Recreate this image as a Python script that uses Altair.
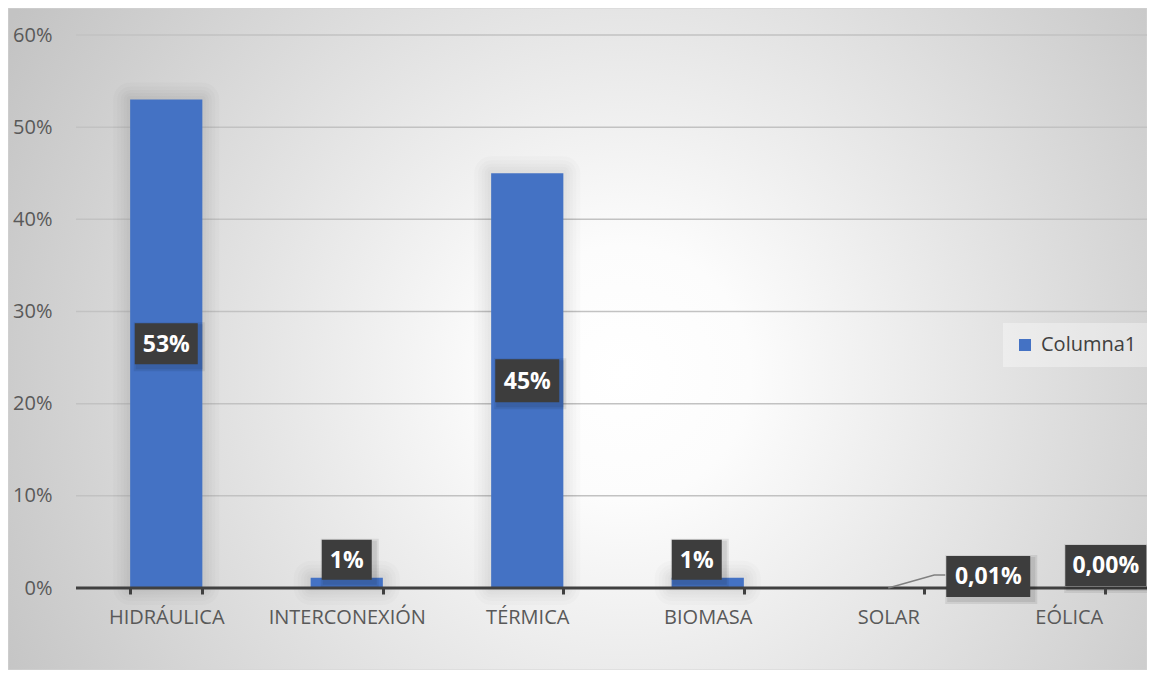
import altair as alt
import pandas as pd

# ---------------- data ----------------
categories = ["HIDRÁULICA", "INTERCONEXIÓN", "TÉRMICA", "BIOMASA", "SOLAR", "EÓLICA"]
values = [0.53, 0.011, 0.45, 0.011, 0.0001, 0.00002]
labels = ["53%", "1%", "45%", "1%", "0,01%", "0,00%"]
series_name = "Columna1"
y_ticks = [0.0, 0.1, 0.2, 0.3, 0.4, 0.5, 0.6]

df = pd.DataFrame({"cat": categories, "value": values, "label": labels, "series": series_name})
grid_df = pd.DataFrame({"v": y_ticks[1:]})
bg_df = pd.DataFrame({"a": [0]})

# ---------------- layout / style ----------------
W, H = 1071, 553          # plot area
PAD = {"left": 68, "top": 27, "right": 0, "bottom": 82}
XR = 1083                 # x range (runs past right edge like the original)
FONT = "Open Sans"
BAR = "#4472C4"
BOX = "#3d3d3d"

# label box placement (pixel nudges relative to anchor) and box sizes
label_style = {
    "HIDRÁULICA":    dict(mid=True,  dx=0,   dy=0,     w=63, h=41),
    "INTERCONEXIÓN": dict(mid=False, dx=0,   dy=-18,   w=50, h=40),
    "TÉRMICA":       dict(mid=True,  dx=0,   dy=0,     w=64, h=43),
    "BIOMASA":       dict(mid=False, dx=-11, dy=-18,   w=50, h=40),
    "SOLAR":         dict(mid=False, dx=100, dy=-11.5, w=84, h=41),
    "EÓLICA":        dict(mid=False, dx=37,  dy=-22.5, w=81, h=41),
}

S = 50.0  # custom symbol unit scale for size=10000


def rect_path(cx, cy, w, h):
    x0, x1 = (cx - w / 2) / S, (cx + w / 2) / S
    y0, y1 = (cy - h / 2) / S, (cy + h / 2) / S
    return f"M{x0:.3f},{y0:.3f}L{x1:.3f},{y0:.3f}L{x1:.3f},{y1:.3f}L{x0:.3f},{y1:.3f}Z"


xscale = alt.Scale(domain=categories, range=[0, XR], paddingInner=0.6, paddingOuter=0.3)
yscale = alt.Scale(domain=[0, 0.6], nice=False, zero=True)

xaxis = alt.Axis(title=None, domain=False, grid=False, ticks=True, tickBand="extent",
                 tickSize=6, tickWidth=3, tickColor="#404040", labelFont=FONT,
                 labelFontSize=20, labelColor="#595959", labelPadding=13, labelAngle=0,
                 zindex=1)
yaxis = alt.Axis(title=None, domain=False, grid=False, ticks=False, tickSize=0,
                 values=y_ticks, format=".0%", labelFont=FONT, labelFontSize=20,
                 labelColor="#595959", labelPadding=24, zindex=1)

xenc = alt.X("cat:N", sort=categories, scale=xscale, axis=xaxis)


def yenc(field):
    return alt.Y(field, scale=yscale, axis=yaxis)


# background with radial gradient
bg = alt.Chart(bg_df).mark_rect(
    color=alt.RadialGradient(
        gradient="radial",
        stops=[alt.GradientStop(color="#ffffff", offset=0),
               alt.GradientStop(color="#fcfcfc", offset=0.18),
               alt.GradientStop(color="#c3c3c3", offset=1)],
        x1=0.54, y1=0.53, r1=0,
        x2=0.54, y2=0.53, r2=0.62),
    stroke="#d4d4d4", strokeWidth=1,
).encode(x=alt.value(-PAD["left"]), x2=alt.value(W),
         y=alt.value(-PAD["top"]), y2=alt.value(H + PAD["bottom"]))

grid = alt.Chart(grid_df).mark_rule(color="#c2c2c2", strokeWidth=1.5).encode(
    y=yenc("v:Q"), x=alt.value(0), x2=alt.value(XR))

base = alt.Chart(df).transform_calculate(half="datum.value / 2")

# soft halo around the visible bars
halo_base = base.transform_filter(alt.datum.value > 0.005)
halos = [halo_base.mark_bar(fillOpacity=0, stroke="#000000", strokeWidth=sw,
                            strokeOpacity=0.016, strokeJoin="round").encode(
             x=xenc, y=yenc("value:Q"))
         for sw in (34, 26, 19, 13, 7)]

bars = base.mark_bar().encode(
    x=xenc, y=yenc("value:Q"),
    color=alt.Color("series:N",
                    scale=alt.Scale(domain=[series_name], range=[BAR]),
                    legend=alt.Legend(title=None, orient="none", legendX=927, legendY=288,
                                      padding=12, fillColor="rgba(255,255,255,0.35)",
                                      symbolType="square", symbolSize=144,
                                      symbolStrokeWidth=0, labelFont=FONT,
                                      labelFontSize=20, labelColor="#404040",
                                      labelOffset=6)))

domain_rule = alt.Chart(bg_df).mark_rule(color="#404040", strokeWidth=3).encode(
    y=alt.datum(0), x=alt.value(0), x2=alt.value(XR))

layers = [bg, grid] + halos + [bars, domain_rule]

for cat in categories:
    st = label_style[cat]
    sub = base.transform_filter(alt.datum.cat == cat)
    yf = "half:Q" if st["mid"] else "value:Q"
    if cat == "SOLAR":
        layers.append(sub.mark_point(shape="M0,0L0.92,-0.26L1.14,-0.26", size=10000,
                                     filled=False, color="#808080", strokeWidth=1.5,
                                     opacity=1).encode(x=xenc, y=yenc(yf)))
    for grow in (8, 4):
        layers.append(sub.mark_point(
            shape=rect_path(st["dx"] + 3, st["dy"] + 3, st["w"] + grow, st["h"] + grow),
            size=10000, filled=True, color="#000000", opacity=0.08,
            strokeWidth=0).encode(x=xenc, y=yenc(yf)))
    layers.append(sub.mark_point(shape=rect_path(st["dx"], st["dy"], st["w"], st["h"]),
                                 size=10000, filled=True, color=BOX, opacity=1,
                                 strokeWidth=0).encode(x=xenc, y=yenc(yf)))
    layers.append(sub.mark_text(dx=st["dx"], dy=st["dy"] + 1, font=FONT, fontSize=23,
                                fontWeight="bold", color="#ffffff", baseline="middle",
                                align="center").encode(x=xenc, y=yenc(yf), text="label:N"))

chart = alt.layer(*layers).properties(
    width=W, height=H,
    autosize=alt.AutoSizeParams(type="none"),
    padding=PAD,
).configure_view(stroke=None).configure(background="#ffffff")

chart.save("out.html", embed_options={"renderer": "svg", "actions": False})
